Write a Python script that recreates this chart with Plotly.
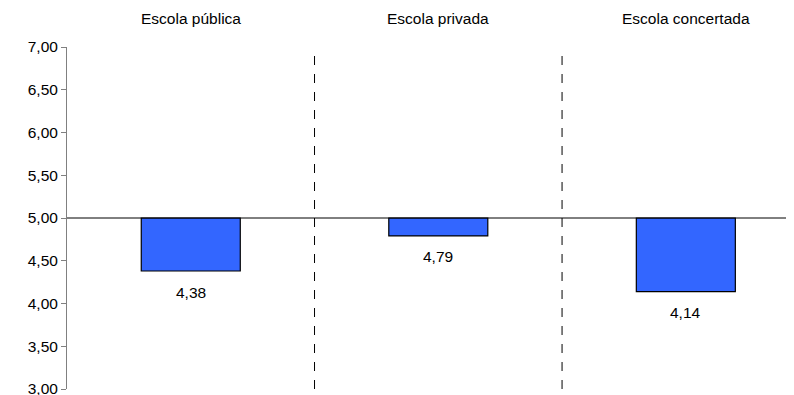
import plotly.graph_objects as go

categories = ["Escola pública", "Escola privada", "Escola concertada"]
values = [4.38, 4.79, 4.14]
value_labels = ["4,38", "4,79", "4,14"]
baseline = 5.0
y_ticks = [3.0, 3.5, 4.0, 4.5, 5.0, 5.5, 6.0, 6.5, 7.0]

xs = list(range(len(categories)))
font = "Liberation Sans, Arial, sans-serif"
fsize = 15.5

fig = go.Figure()
fig.add_trace(go.Bar(
    x=xs,
    y=[v - baseline for v in values],
    base=[baseline] * len(values),
    width=0.4,
    marker=dict(color="#3366FF", line=dict(color="black", width=1.2)),
    hoverinfo="skip",
))

annotations = []
for i, (c, v, lab) in enumerate(zip(categories, values, value_labels)):
    annotations.append(dict(x=i, y=1, xref="x", yref="paper", yshift=29,
                            yanchor="middle", text=c, showarrow=False,
                            font=dict(family=font, size=fsize, color="black")))
    annotations.append(dict(x=i, y=v, xref="x", yref="y", yshift=-21,
                            yanchor="middle", text=lab, showarrow=False,
                            font=dict(family=font, size=fsize, color="black")))

shapes = [dict(type="line", xref="paper", yref="y", x0=0, x1=1, y0=baseline, y1=baseline,
               line=dict(color="black", width=1))]
for k in range(len(categories) - 1):
    shapes.append(dict(type="line", xref="x", yref="y", x0=k + 0.5, x1=k + 0.5,
                       y0=y_ticks[0], y1=y_ticks[-1],
                       line=dict(color="black", width=1, dash="dash")))

fig.update_layout(
    width=786, height=395,
    margin=dict(l=59, r=0, t=39, b=14),
    plot_bgcolor="white", paper_bgcolor="white",
    separators=",.",
    showlegend=False,
    annotations=annotations,
    shapes=shapes,
    xaxis=dict(range=[-0.5, 2.437], showticklabels=False, showgrid=False,
               zeroline=False, showline=False, ticks=""),
    yaxis=dict(range=[3, 7], tickvals=y_ticks, tickformat=".2f",
               showgrid=False, zeroline=False, showline=True,
               linecolor="#808080", linewidth=1, ticks="outside", ticklen=5,
               tickcolor="#808080", automargin=False,
               tickfont=dict(family=font, size=fsize, color="black")),
)

fig.write_html("out.html")
